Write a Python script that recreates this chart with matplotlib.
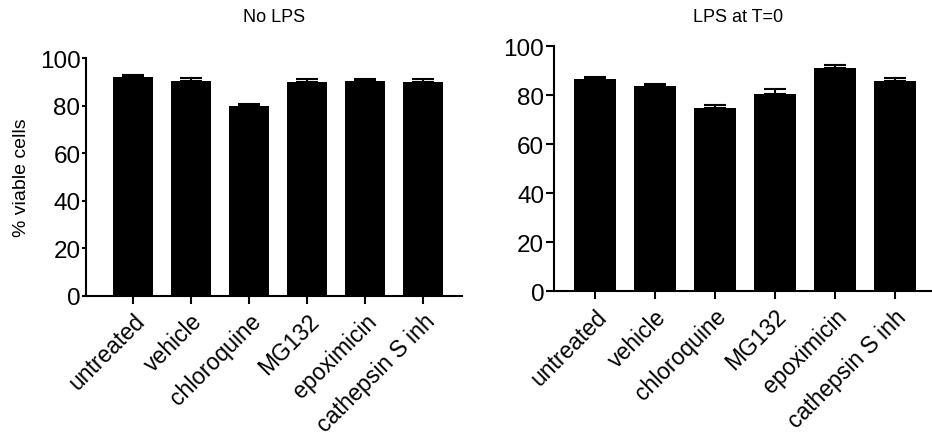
import matplotlib.pyplot as plt
import numpy as np

plt.rcParams['font.family'] = ['Liberation Sans', 'DejaVu Sans']

groups = ['untreated', 'vehicle', 'chloroquine', 'MG132', 'epoximicin', 'cathepsin S inh']
no_lps = [91.9, 90.5, 79.8, 89.9, 90.2, 90.1]
no_lps_err = [1.1, 1.2, 0.8, 1.3, 1.1, 1.1]
lps_t0 = [86.7, 83.7, 74.8, 80.7, 91.1, 86.0]
lps_t0_err = [0.9, 0.8, 1.2, 1.7, 1.4, 1.2]

fig = plt.figure(figsize=(9.32, 4.39), dpi=100)
ax1 = fig.add_axes([86/932, 1-297/439, (462-86)/932, (297-59)/439])
ax2 = fig.add_axes([554/932, 1-292.3/439, (931-554)/932, (292.3-47.3)/439])

x = np.arange(len(groups))

def draw(ax, vals, err, xlim, ytick_len):
    ax.bar(x, vals, width=0.69, color='black')
    ax.errorbar(x, vals, yerr=[np.zeros(len(err)), err], fmt='none',
                ecolor='black', elinewidth=1.5, capsize=8, capthick=1.5)
    ax.set_xlim(*xlim)
    ax.set_ylim(0, 100)
    ax.set_yticks([0, 20, 40, 60, 80, 100])
    ax.set_xticks(x)
    ax.set_xticklabels(groups, rotation=45, ha='right', rotation_mode='anchor', fontsize=16.5)
    for s in ['top', 'right']:
        ax.spines[s].set_visible(False)
    for s in ['left', 'bottom']:
        ax.spines[s].set_linewidth(1.5)
    ax.tick_params(axis='x', width=1.5, length=6, pad=3.5)
    ax.tick_params(axis='y', width=1.5, length=ytick_len, labelsize=17.5, pad=1)

draw(ax1, no_lps, no_lps_err, (-0.81, 5.67), 3)
draw(ax2, lps_t0, lps_t0_err, (-0.68, 5.6), 6)
ax1.set_ylabel('% viable cells', fontsize=14)
ax1.yaxis.set_label_coords(-0.15, 0.5)

fig.text(274/932, 1-18/439, 'No LPS', ha='center', va='center', fontsize=13)
fig.text(738/932, 1-18/439, 'LPS at T=0', ha='center', va='center', fontsize=13)

fig.savefig('out.png', dpi=100)
